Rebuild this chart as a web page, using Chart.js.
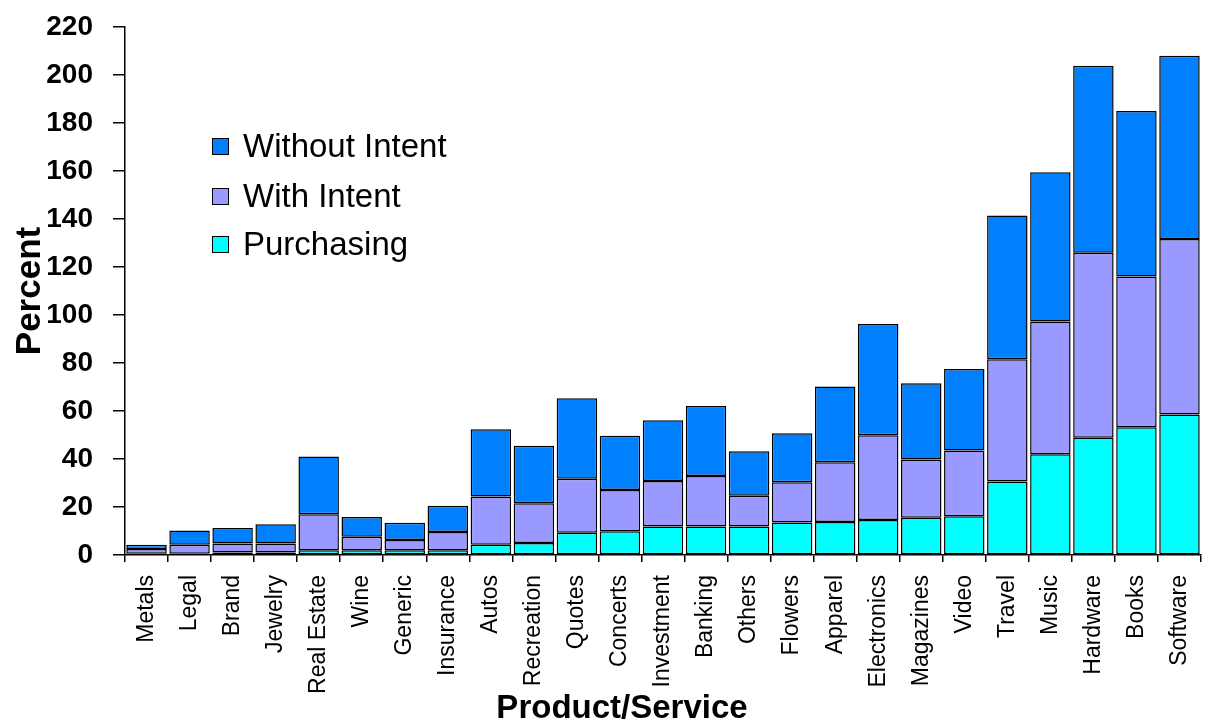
<!DOCTYPE html>
<html>
<head>
<meta charset="utf-8">
<script src="https://cdn.jsdelivr.net/npm/chart.js@4"></script>
<style>
html,body{margin:0;padding:0;background:#fff;}
#wrap{width:1206px;height:724px;position:relative;}
</style>
</head>
<body>
<div id="wrap"><canvas id="c" width="1206" height="724"></canvas></div>
<script>
const categories = ["Metals","Legal","Brand","Jewelry","Real Estate","Wine","Generic","Insurance","Autos","Recreation","Quotes","Concerts","Investment","Banking","Others","Flowers","Apparel","Electronics","Magazines","Video","Travel","Music","Hardware","Books","Software"];
const purchasing    = [0.5,0.5,1,1,2,2,2,2,4.3,5,9.3,9.9,11.9,11.9,11.9,13.5,13.7,14.6,15.5,16.1,30.6,42,48.9,53.2,58.5];
const withIntent    = [2,3.8,3.8,3.8,15,5.6,4.3,7.6,20.1,16.6,22.5,17.2,18.9,21,12.8,16.8,24.9,35.3,24.3,27.4,51,55.3,77,62.8,73.2];
const withoutIntent = [1.8,5.9,6.5,8,24,8.2,7.1,10.9,28,23.9,33.5,22.6,25.3,29.2,18.5,20.4,31.6,46.3,31.8,34,59.9,62.2,78,69,76.3];
const yTicks = [0,20,40,60,80,100,120,140,160,180,200,220];
const legendLabels = ["Without Intent","With Intent","Purchasing"];
const xTitle = "Product/Service";
const yTitle = "Percent";
const colors = {without:"#0080FF", with:"#9999FF", purch:"#00FFFF"};
const FONT = '"Liberation Sans", Arial, sans-serif';

const legendPlugin = {
  id:'innerLegend',
  afterDatasetsDraw(chart){
    const ctx = chart.ctx;
    const items = [
      {t:legendLabels[0], c:colors.without},
      {t:legendLabels[1], c:colors.with},
      {t:legendLabels[2], c:colors.purch}
    ];
    const ys = [147,197,245];
    ctx.save();
    ctx.font = '33px ' + FONT;
    ctx.textBaseline = 'middle';
    ctx.textAlign = 'left';
    items.forEach((it,i)=>{
      ctx.fillStyle = it.c;
      ctx.fillRect(212, ys[i]-9, 17, 17);
      ctx.strokeStyle = '#000';
      ctx.lineWidth = 1;
      ctx.strokeRect(212.5, ys[i]-8.5, 16, 16);
      ctx.fillStyle = '#000';
      ctx.fillText(it.t, 243, ys[i]+1);
    });
    ctx.restore();
  }
};

const xTitlePlugin = {
  id:'xTitle',
  afterDraw(chart){
    const ctx = chart.ctx;
    ctx.save();
    ctx.font = 'bold 33px ' + FONT;
    ctx.fillStyle = '#000';
    ctx.textAlign = 'center';
    ctx.textBaseline = 'alphabetic';
    ctx.fillText(xTitle, 622, 718);
    ctx.restore();
  }
};

const ds = (label, data, color) => ({
  label, data, backgroundColor: color, borderColor:'#000', borderWidth:1.5,
  borderSkipped:false, barPercentage:0.94, categoryPercentage:1.0
});

new Chart(document.getElementById('c'), {
  type:'bar',
  data:{
    labels: categories,
    datasets:[
      ds(legendLabels[2], purchasing, colors.purch),
      ds(legendLabels[1], withIntent, colors.with),
      ds(legendLabels[0], withoutIntent, colors.without)
    ]
  },
  options:{
    responsive:false,
    animation:false,
    devicePixelRatio:1,
    layout:{padding:{left:0,right:5,top:27,bottom:0}},
    plugins:{legend:{display:false}, tooltip:{enabled:false}},
    scales:{
      x:{
        stacked:true,
        grid:{display:true, drawOnChartArea:false, tickLength:7, color:'#000', lineWidth:1.5, offset:true},
        border:{display:true, color:'#000', width:1.5},
        ticks:{autoSkip:false, minRotation:90, maxRotation:90, padding:13, color:'#000',
               font:{family:FONT, size:23}},
        afterFit(scale){ scale.height = 169; scale.paddingLeft = 0; scale.paddingRight = 0; }
      },
      y:{
        stacked:true, min:0, max:220,
        afterBuildTicks(scale){ scale.ticks = yTicks.map(v=>({value:v})); },
        grid:{display:true, drawOnChartArea:false, tickLength:12, color:'#000', lineWidth:1.5},
        border:{display:true, color:'#000', width:1.5},
        ticks:{padding:20, color:'#000', font:{family:FONT, size:28, weight:'bold'}},
        title:{display:true, text:yTitle, color:'#000', padding:{top:13,bottom:0},
               font:{family:FONT, size:35, weight:'bold', lineHeight:1}},
        afterFit(scale){ scale.width = 125; scale.paddingTop = 0; scale.paddingBottom = 0; }
      }
    }
  },
  plugins:[legendPlugin, xTitlePlugin]
});
</script>
</body>
</html>
